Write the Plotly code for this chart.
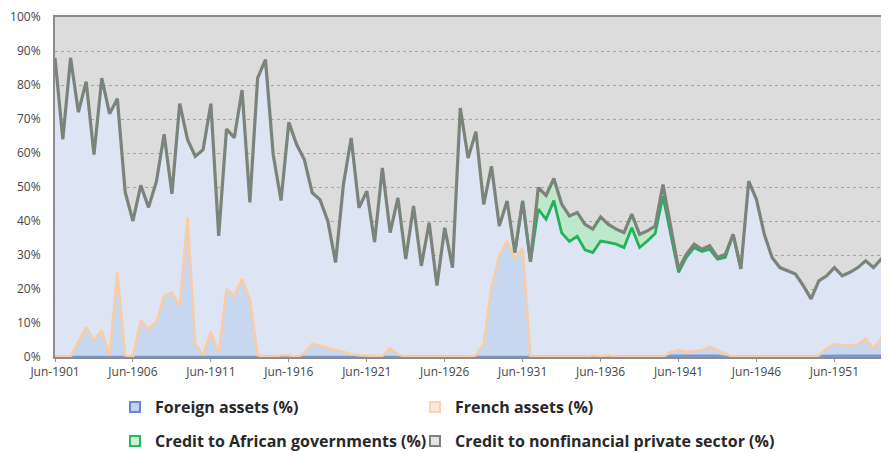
import pandas as pd
import plotly.graph_objects as go

# Colors
bg_gray = 'rgb(220,220,220)'
lavender_fill = 'rgb(221,228,244)'
french_fill = 'rgb(198,215,239)'
green_fill = 'rgb(190,232,203)'
gray_line = 'rgb(122,132,122)'
green_line = 'rgb(34,178,92)'
peach_line = 'rgb(250,204,164)'
blue_line = 'rgb(120,152,204)'

# semiannual observations, Jun-1901 .. Dec-1954
dates = pd.date_range('1901-06-01', periods=108, freq='6MS')

tick_vals = ['1901-06-01', '1906-06-01', '1911-06-01', '1916-06-01', '1921-06-01', '1926-06-01',
             '1931-06-01', '1936-06-01', '1941-06-01', '1946-06-01', '1951-06-01']
tick_text = ['Jun-1901', 'Jun-1906', 'Jun-1911', 'Jun-1916', 'Jun-1921', 'Jun-1926',
             'Jun-1931', 'Jun-1936', 'Jun-1941', 'Jun-1946', 'Jun-1951']
pct_vals = [0, 10, 20, 30, 40, 50, 60, 70, 80, 90, 100]
pct_text = ['0%', '10%', '20%', '30%', '40%', '50%', '60%', '70%', '80%', '90%', '100%']

# line heights (%)
private_sector = [88, 64, 88, 72, 81, 59.5, 82, 71.5, 76, 48.5,
                  40, 50.5, 44, 51.5, 65.5, 48, 74.5, 64, 59, 61,
                  74.5, 35.6, 67, 64.5, 78.5, 45.5, 82, 87.5, 59.5, 46,
                  69, 62.5, 58, 48.3, 46.3, 40, 27.8, 50.7, 64.4, 43.9,
                  48.8, 33.8, 55.6, 36.6, 46.8, 28.8, 44.4, 26.8, 39.5, 21,
                  38, 26.3, 73.2, 58.5, 66.3, 44.9, 56.1, 38.5, 45.9, 30.7,
                  45.9, 28, 49.8, 47.5, 52.5, 45, 41.5, 42.5, 39, 37.6,
                  41.2, 39, 37.6, 36.6, 42, 36.1, 37.1, 38.5, 50.7, 38,
                  25.9, 30.2, 33.2, 31.7, 32.7, 29.3, 30.2, 36.1, 25.9, 51.7,
                  46.3, 36.1, 29.3, 26.3, 25.4, 24.4, 21, 17.1, 22.4, 23.9,
                  26.3, 23.9, 24.9, 26.3, 28.3, 26.3, 28.8, 26.3]

# African governments line only exists Dec-1930 .. Dec-1945
gov_start = 59
african_gov = [30.7, 45.9, 28, 43.5, 40.5, 46, 36.5, 34, 35.5, 31.5,
               30.7, 34.1, 33.7, 33.2, 32.2, 38, 32.2, 34.1, 36.3, 47.3,
               36, 24.9, 29.3, 32.2, 31, 31.7, 28.8, 29.3, 36.1, 25.9]

french_assets = [0, 0, 0, 4.5, 8.8, 4.9, 7.8, 0.5, 24.9, 0.5,
                 0, 10.7, 8.3, 10.2, 18, 19, 15.1, 41, 3.9, 0.5,
                 7.5, 1, 20, 18, 23, 17, 0.5, 0, 0, 0.5,
                 0.5, 0, 1, 3.9, 3.3, 2.7, 2, 1.4, 0.8, 0.5,
                 0.3, 0.3, 0.3, 2.5, 0.8, 0, 0, 0, 0, 0,
                 0, 0, 0, 0, 0.5, 3.9, 20.5, 29.8, 34.1, 29,
                 32, 0, 0, 0, 0, 0, 0, 0, 0, 0.5,
                 0.3, 0.5, 0, 0, 0, 0, 0, 0, 0, 1.5,
                 2, 1.5, 1.8, 2, 3, 2, 1, 0, 0, 0,
                 0, 0, 0, 0, 0, 0, 0, 0, 0.5, 2.5,
                 3.9, 3.4, 3.4, 3.6, 5.4, 2.4, 5.4, 2.4]

foreign_assets = [0, 0, 0, 0, 0, 0, 0, 0, 0, 0,
                  0, 0, 0, 0, 0, 0, 0, 0, 0, 0,
                  0, 0, 0, 0, 0, 0, 0, 0, 0, 0,
                  0, 0, 0, 0, 0, 0, 0, 0, 0, 0,
                  0, 0, 0, 0, 0, 0, 0, 0, 0, 0,
                  0, 0, 0, 0, 0, 0, 0, 0, 0, 0,
                  0, 0, 0, 0, 0, 0, 0, 0, 0, 0,
                  0, 0, 0, 0, 0, 0, 0, 0, 0, 0.4,
                  0.4, 0.4, 0.4, 0.4, 0.4, 0.4, 0, 0, 0, 0,
                  0, 0, 0, 0, 0, 0, 0, 0, 0.3, 0.4,
                  0.4, 0.4, 0.4, 0.4, 0.4, 0.4, 0.4, 0.4]

gov_dates = dates[gov_start:gov_start + len(african_gov)]
private_on_gov = private_sector[gov_start:gov_start + len(african_gov)]

fig = go.Figure()

# area under the private sector line
fig.add_trace(go.Scatter(x=dates, y=private_sector, mode='lines', fill='tozeroy',
                         fillcolor=lavender_fill, line=dict(width=0), showlegend=False,
                         hoverinfo='skip'))
# green band between the two lines
fig.add_trace(go.Scatter(x=gov_dates, y=private_on_gov, mode='lines', line=dict(width=0),
                         showlegend=False, hoverinfo='skip'))
fig.add_trace(go.Scatter(x=gov_dates, y=african_gov, mode='lines', fill='tonexty',
                         fillcolor=green_fill, line=dict(width=0), showlegend=False,
                         hoverinfo='skip'))
# French assets area
fig.add_trace(go.Scatter(x=dates, y=french_assets, mode='lines', fill='tozeroy',
                         fillcolor=french_fill, line=dict(width=0), showlegend=False,
                         hoverinfo='skip'))
# lines
fig.add_trace(go.Scatter(x=dates, y=foreign_assets, mode='lines',
                         line=dict(color=blue_line, width=2.5), showlegend=False))
fig.add_trace(go.Scatter(x=dates, y=french_assets, mode='lines',
                         line=dict(color=peach_line, width=2.5), showlegend=False))
fig.add_trace(go.Scatter(x=gov_dates, y=african_gov, mode='lines',
                         line=dict(color=green_line, width=2.8), showlegend=False))
fig.add_trace(go.Scatter(x=dates, y=private_sector, mode='lines',
                         line=dict(color=gray_line, width=3.2), showlegend=False))

# legend swatches, one legend box per entry (2 x 2 grid)
legend_items = [
    ('Foreign assets (%)', 'rgb(192,210,238)', 'rgb(100,140,200)', 'legend'),
    ('French assets (%)', 'rgb(252,232,214)', 'rgb(248,212,180)', 'legend2'),
    ('Credit to African governments (%)', 'rgb(205,240,215)', 'rgb(40,185,95)', 'legend3'),
    ('Credit to nonfinancial private sector (%)', 'rgb(228,228,228)', 'rgb(128,128,128)', 'legend4'),
]
for name, fill_c, border_c, leg in legend_items:
    fig.add_trace(go.Scatter(x=[None], y=[None], mode='markers', name=name, legend=leg,
                             marker=dict(symbol='square', size=10, color=fill_c,
                                         line=dict(color=border_c, width=2))))

# page body adds an 8px offset, so the figure is 881 x 445
W, H = 881, 445
legend_common = dict(orientation='h', xref='container', yref='container',
                     xanchor='left', yanchor='middle',
                     font=dict(family='Open Sans', size=16, color='rgb(40,40,40)', weight='bold'),
                     bgcolor='rgba(0,0,0,0)', traceorder='normal')

col1_x, col2_x = 107 / W, 407 / W
row1_y, row2_y = 1 - 399 / H, 1 - 433 / H

fig.update_layout(
    width=W, height=H,
    margin=dict(l=47, r=0, t=9, b=96),
    plot_bgcolor=bg_gray,
    paper_bgcolor='white',
    font=dict(family='Open Sans', color='rgb(80,80,80)'),
    xaxis=dict(type='date', range=[dates[0], dates[-1]], automargin=False,
               tickvals=tick_vals, ticktext=tick_text,
               tickfont=dict(size=12, color='rgb(70,70,70)'),
               ticks='outside', ticklen=3, tickcolor='rgb(150,150,150)',
               showgrid=False, zeroline=False,
               showline=True, linecolor='rgb(140,140,140)', linewidth=2, mirror=True),
    yaxis=dict(range=[0, 100], automargin=False,
               tickvals=pct_vals, ticktext=pct_text,
               tickfont=dict(size=12, color='rgb(70,70,70)'),
               ticklabelstandoff=10, ticklabeloverflow='allow',
               showgrid=True, gridcolor='rgb(165,165,165)', gridwidth=1, griddash='dot',
               zeroline=False,
               showline=True, linecolor='rgb(140,140,140)', linewidth=2, mirror=True),
    legend=dict(x=col1_x, y=row1_y, **legend_common),
    legend2=dict(x=col2_x, y=row1_y, **legend_common),
    legend3=dict(x=col1_x, y=row2_y, **legend_common),
    legend4=dict(x=col2_x, y=row2_y, **legend_common),
)

fig.write_html("out.html")
